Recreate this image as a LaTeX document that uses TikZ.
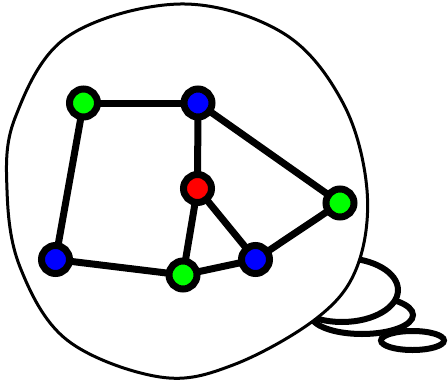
\documentclass[tikz,border=0pt]{standalone}
\begin{document}
\begin{tikzpicture}[x=1pt,y=-1pt,
  vtx/.style={circle,draw=black,line width=7pt,minimum size=28pt,inner sep=0pt,outer sep=0pt},
  edge/.style={line width=7pt},
  tail/.style={draw=black,fill=white,line width=6pt}]
\useasboundingbox (0,0) rectangle (448,381);
% thought-bubble tail
\path[tail] (362,315) ellipse [x radius=51,y radius=19];
\path[tail] (412.5,340.5) ellipse [x radius=31.5,y radius=9.5];
\path[tail] (342,290) ellipse [x radius=56,y radius=32];
% bubble
\draw[line width=3pt,fill=white] plot[smooth cycle,tension=0.6] coordinates {
  (180,4) (283,33) (343,103) (367,190) (357,267) (317,318) (233,365)
  (160,377) (67,340) (20,267) (7,190) (15,118) (67,37)};
% vertices
\node[vtx,fill=green] (A) at (83.5,103) {};
\node[vtx,fill=blue]  (B) at (198,103) {};
\node[vtx,fill=red]   (C) at (197.5,188.5) {};
\node[vtx,fill=green] (D) at (340,203) {};
\node[vtx,fill=blue]  (E) at (55.5,259.5) {};
\node[vtx,fill=green] (F) at (183,275) {};
\node[vtx,fill=blue]  (G) at (255.5,259.5) {};
% edges
\draw[edge] (A) -- (B);
\draw[edge] (A) -- (E);
\draw[edge] (B) -- (C);
\draw[edge] (B) -- (D);
\draw[edge] (C) -- (F);
\draw[edge] (C) -- (G);
\draw[edge] (D) -- (G);
\draw[edge] (E) -- (F);
\draw[edge] (F) -- (G);
\end{tikzpicture}
\end{document}
